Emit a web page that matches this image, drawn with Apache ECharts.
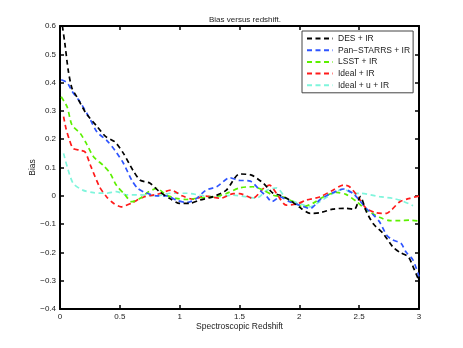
<!DOCTYPE html>
<html>
<head>
<meta charset="utf-8">
<script src="https://cdn.jsdelivr.net/npm/echarts@6/dist/echarts.min.js"></script>
<style>html,body{margin:0;padding:0;background:#fff}#c{width:463px;height:348px}</style>
</head>
<body>
<div id="c"></div>
<script>
var seriesNames = ['DES + IR', 'Pan\u2212STARRS + IR', 'LSST + IR', 'Ideal + IR', 'Ideal + u + IR'];
var xTicks = [0, 0.5, 1, 1.5, 2, 2.5, 3];
var yTicks = [-0.4, -0.3, -0.2, -0.1, 0, 0.1, 0.2, 0.3, 0.4, 0.5, 0.6];

var desX = [0.02,0.04,0.07,0.10,0.14,0.22,0.31,0.38,0.46,0.53,0.61,0.67,0.75,0.83,0.92,1.00,1.08,1.17,1.28,1.39,1.50,1.60,1.70,1.78,1.84,1.92,2.00,2.09,2.17,2.28,2.39,2.46,2.51,2.56,2.62,2.70,2.78,2.84,2.91,2.95,3.00];
var desY = [0.60,0.54,0.44,0.38,0.35,0.29,0.245,0.21,0.19,0.15,0.09,0.055,0.045,0.015,-0.01,-0.027,-0.027,-0.015,-0.003,0.02,0.077,0.073,0.044,0.009,0.002,-0.015,-0.04,-0.062,-0.06,-0.047,-0.044,-0.048,-0.003,-0.056,-0.10,-0.133,-0.18,-0.20,-0.215,-0.25,-0.30];

var panX = [0.01,0.06,0.10,0.17,0.24,0.31,0.39,0.46,0.53,0.60,0.65,0.72,0.81,0.89,0.97,1.06,1.14,1.22,1.31,1.42,1.49,1.59,1.67,1.73,1.77,1.84,1.92,2.00,2.09,2.17,2.25,2.37,2.45,2.50,2.56,2.62,2.67,2.73,2.78,2.85,2.89,2.95,3.00];
var panY = [0.41,0.40,0.37,0.33,0.28,0.225,0.196,0.16,0.115,0.055,0.026,0.01,0.0,0.0,-0.015,-0.024,-0.01,0.02,0.032,0.064,0.055,0.052,0.02,-0.004,-0.021,-0.004,-0.021,-0.033,-0.045,-0.015,0.005,0.024,0.008,-0.015,-0.045,-0.068,-0.092,-0.139,-0.156,-0.168,-0.198,-0.227,-0.285];

var lsstX = [0.01,0.06,0.10,0.17,0.22,0.28,0.36,0.42,0.47,0.54,0.60,0.67,0.74,0.81,0.89,0.97,1.06,1.17,1.28,1.39,1.50,1.61,1.70,1.78,1.86,1.95,2.03,2.12,2.20,2.31,2.39,2.48,2.56,2.67,2.76,2.84,2.92,3.00];
var lsstY = [0.35,0.314,0.25,0.22,0.185,0.138,0.108,0.079,0.038,0.005,-0.021,-0.009,0.014,0.026,0.002,-0.009,-0.013,-0.007,-0.004,0.008,0.028,0.032,0.02,0.002,-0.004,-0.021,-0.039,-0.025,-0.004,0.012,0.005,-0.021,-0.05,-0.076,-0.088,-0.088,-0.086,-0.089];

var idealX = [0.03,0.05,0.08,0.11,0.17,0.21,0.26,0.33,0.39,0.45,0.51,0.60,0.70,0.81,0.93,1.02,1.11,1.22,1.34,1.45,1.50,1.61,1.70,1.75,1.81,1.89,1.98,2.06,2.17,2.28,2.37,2.42,2.49,2.56,2.64,2.73,2.77,2.84,2.92,3.00];
var idealY = [0.28,0.238,0.196,0.167,0.161,0.155,0.102,0.032,-0.004,-0.027,-0.039,-0.025,-0.004,0.005,0.02,0.0,-0.012,-0.001,-0.009,0.008,0.008,-0.009,0.026,0.038,0.008,-0.033,-0.029,-0.015,-0.004,0.02,0.038,0.032,-0.004,-0.045,-0.06,-0.062,-0.05,-0.021,-0.009,-0.001];

var idealUX = [0.03,0.06,0.11,0.19,0.28,0.39,0.47,0.56,0.67,0.81,0.92,1.06,1.17,1.28,1.45,1.56,1.64,1.73,1.81,1.89,2.00,2.09,2.17,2.28,2.37,2.45,2.51,2.67,2.78,2.86,2.95];
var idealUY = [0.15,0.103,0.044,0.02,0.011,0.009,0.015,0.003,0.003,0.0,0.009,0.009,0.002,-0.004,0.002,-0.004,-0.009,0.02,0.028,-0.009,-0.027,-0.039,-0.021,0.008,0.024,0.008,0.009,-0.003,-0.009,-0.018,-0.035];

var colors = ['#000000', '#2f55ff', '#5cf000', '#ff1a1a', '#7ff5dc'];
var xs = [desX, panX, lsstX, idealX, idealUX];
var ys = [desY, panY, lsstY, idealY, idealUY];

function pairs(a, b) { return a.map(function (v, i) { return [v, b[i]]; }); }
function fmt(v) {
  var r = Math.round(v * 10) / 10;
  if (Math.abs(r) < 1e-9) return '0';
  return (r < 0 ? '\u2212' : '') + String(Math.abs(r));
}

var font = 'Liberation Sans, Arial, Helvetica, sans-serif';
var axisCommon = function (pos, showLabel) {
  return {
    type: 'value', position: pos,
    axisLine: { show: true, onZero: false, lineStyle: { color: '#000', width: 2 } },
    axisTick: { show: true, inside: true, length: 4, lineStyle: { color: '#000', width: 1.5 } },
    axisLabel: { show: showLabel, color: '#222', fontSize: 8, fontFamily: font, formatter: fmt, margin: 4 },
    splitLine: { show: false }
  };
};

var xBottom = axisCommon('bottom', true);
xBottom.min = 0; xBottom.max = 3; xBottom.interval = 0.5;
xBottom.name = 'Spectroscopic Redshift'; xBottom.nameLocation = 'middle'; xBottom.nameGap = 13;
xBottom.nameMoveOverlap = false;
xBottom.nameTextStyle = { color: '#222', fontSize: 8.5, fontFamily: font };
xBottom.axisLabel.formatter = function (v) { return String(v); };
var xTop = axisCommon('top', false);
xTop.min = 0; xTop.max = 3; xTop.interval = 0.5;
var yLeft = axisCommon('left', true);
yLeft.min = -0.4; yLeft.max = 0.6; yLeft.interval = 0.1;
yLeft.name = 'Bias'; yLeft.nameLocation = 'middle'; yLeft.nameGap = 23; yLeft.nameRotate = 90;
yLeft.nameMoveOverlap = false;
yLeft.nameTextStyle = { color: '#222', fontSize: 8.5, fontFamily: font };
var yRight = axisCommon('right', false);
yRight.min = -0.4; yRight.max = 0.6; yRight.interval = 0.1;

var series = seriesNames.map(function (n, i) {
  return {
    name: n, type: 'line', xAxisIndex: 0, yAxisIndex: 0,
    data: pairs(xs[i], ys[i]), showSymbol: false, symbol: 'none',
    smooth: 0.25, clip: true,
    lineStyle: { color: colors[i], width: 1.7, type: [5, 3.5] },
    itemStyle: { color: colors[i] },
    z: 5 - i
  };
});

var chart = echarts.init(document.getElementById('c'), null, { renderer: 'canvas' });
chart.setOption({
  animation: false,
  backgroundColor: '#fff',
  title: { text: 'Bias versus redshift.', left: 240, top: 11, textAlign: 'center',
    textStyle: { fontSize: 8, fontWeight: 'normal', color: '#222', fontFamily: font } },
  grid: { left: 60, top: 26, width: 359, height: 283, containLabel: false },
  xAxis: [xBottom, xTop],
  yAxis: [yLeft, yRight],
  legend: {
    orient: 'vertical', left: 302, top: 31,
    itemWidth: 26, itemHeight: 8, itemGap: 2.7,
    padding: [3, 3, 3, 4],
    borderColor: '#444', borderWidth: 1, backgroundColor: '#fff',
    itemStyle: { opacity: 0 },
    textStyle: { fontSize: 8.5, color: '#222', fontFamily: font },
    data: seriesNames
  },
  series: series
});
</script>
</body>
</html>
